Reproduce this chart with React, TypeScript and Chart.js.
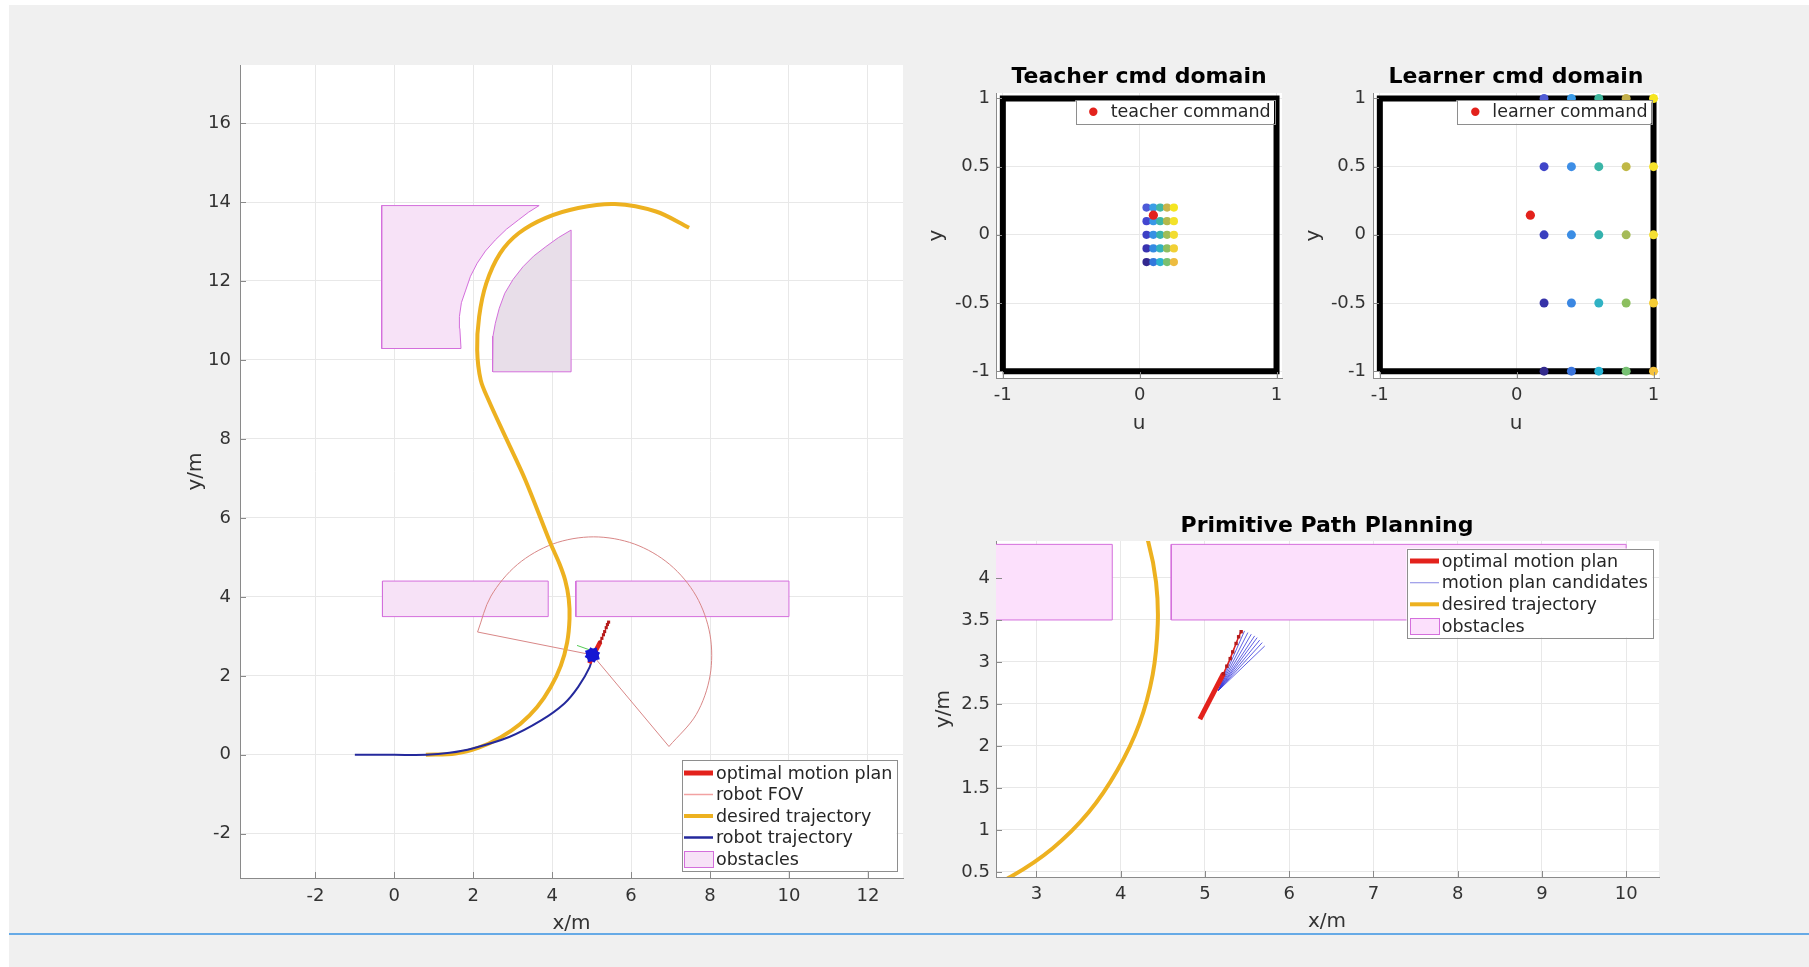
import React, { useEffect, useRef } from 'react';
import { Chart, registerables } from 'chart.js';

Chart.register(...registerables);

const FIG_W = 1809;
const FIG_H = 967;
const FONT = "'DejaVu Sans', 'Liberation Sans', Arial, sans-serif";

// ---------------- tick labels ----------------
const mapXTicks = [-2, 0, 2, 4, 6, 8, 10, 12];
const mapYTicks = [-2, 0, 2, 4, 6, 8, 10, 12, 14, 16];
const cmdXTicks = [-1, 0, 1];
const cmdYTicks = [-1, -0.5, 0, 0.5, 1];
const planXTicks = [3, 4, 5, 6, 7, 8, 9, 10];
const planYTicks = [0.5, 1, 1.5, 2, 2.5, 3, 3.5, 4];

// ---------------- map data ----------------
const desiredX = [0.8, 1.55, 2.14, 2.69, 3.19, 3.62, 3.96, 4.22, 4.38, 4.44, 4.42, 4.33, 4.18, 3.96, 3.32, 2.84, 2.39, 2.19, 2.1, 2.15, 2.33, 2.68, 3.15, 3.84, 4.66, 5.59, 6.63, 7.47];
const desiredY = [0.0, 0.03, 0.18, 0.44, 0.78, 1.21, 1.71, 2.26, 2.85, 3.45, 3.95, 4.42, 4.85, 5.35, 6.96, 8.0, 8.98, 9.49, 10.25, 11.1, 11.94, 12.7, 13.21, 13.6, 13.85, 13.95, 13.76, 13.35];

const robotTrajX = [-1.0, 0.0, 0.82, 1.4, 1.98, 2.91, 3.72, 4.31, 4.66, 4.95, 5.02];
const robotTrajY = [0.0, 0.0, 0.0, 0.05, 0.16, 0.45, 0.87, 1.3, 1.72, 2.22, 2.5];

const robotPosX = [5.02];
const robotPosY = [2.53];
const headingX = [4.63, 4.97];
const headingY = [2.77, 2.65];

const planSolidX = [4.94, 5.22];
const planSolidY = [2.32, 2.86];
const planDotX = [5.22, 5.26, 5.3, 5.33, 5.37, 5.4, 5.43];
const planDotY = [2.86, 2.95, 3.04, 3.12, 3.22, 3.3, 3.36];

const candStartX = [5.16];
const candStartY = [2.66];
const candEndX = [5.43, 5.47, 5.51, 5.55, 5.59, 5.62, 5.65, 5.68, 5.71];
const candEndY = [3.38, 3.37, 3.35, 3.33, 3.31, 3.29, 3.26, 3.23, 3.19];

const fovArcX = [2.11, 2.45, 3.12, 4.02, 5.05, 6.08, 6.98, 7.65, 8.0, 8.0, 7.65, 6.96];
const fovArcY = [3.11, 4.02, 4.82, 5.34, 5.52, 5.34, 4.82, 4.02, 3.04, 2.0, 1.02, 0.21];
const fovEdgeX = [2.11, 5.02, 6.96];
const fovEdgeY = [3.11, 2.53, 0.21];

const obstAX = [-0.32, 1.69, 1.66, 1.65, 1.7, 1.81, 1.93, 2.1, 2.31, 2.56, 2.84, 3.15, 3.4, 3.67, -0.32, -0.32];
const obstAY = [10.29, 10.29, 10.8, 11.1, 11.45, 11.77, 12.12, 12.45, 12.76, 13.04, 13.31, 13.55, 13.74, 13.91, 13.91, 10.29];
const obstBX = [2.5, 4.48, 4.48, 4.16, 3.84, 3.53, 3.26, 3.01, 2.8, 2.66, 2.56, 2.5, 2.48, 2.5];
const obstBY = [9.7, 9.7, 13.29, 13.1, 12.87, 12.63, 12.36, 12.04, 11.69, 11.31, 10.93, 10.6, 10.25, 9.7];
const rect1X = [-0.3, 3.9, 3.9, -0.3, -0.3];
const rect1Y = [3.5, 3.5, 4.4, 4.4, 3.5];
const rect2X = [4.6, 10.0, 10.0, 4.6, 4.6];
const rect2Y = [3.5, 3.5, 4.4, 4.4, 3.5];

// ---------------- command domain data ----------------
const domainX = [-1, 1, 1, -1, -1];
const domainY = [-1, -1, 1, 1, -1];
const teacherU = [0.05, 0.1, 0.15, 0.2, 0.25];
const teacherV = [0.2, 0.1, 0, -0.1, -0.2];
const learnerU = [0.2, 0.4, 0.6, 0.8, 1.0];
const learnerV = [1, 0.5, 0, -0.5, -1];
const teacherCmdU = [0.1];
const teacherCmdV = [0.144];
const learnerCmdU = [0.1];
const learnerCmdV = [0.144];

// ---------------- styles ----------------
const AXIS_COLOR = '#8a8a8a';
const GRID_COLOR = '#e8e8e8';
const TEXT_COLOR = '#333333';
const RED = '#e3221c';
const DARK_RED = '#b51a1a';
const YELLOW = '#edb120';
const BLUE = '#24299c';
const ROBOT = '#1616d2';
const FOV = '#d98787';
const FOV_LEGEND = '#f2a2a2';
const CAND = 'rgba(55,55,220,0.8)';
const CAND_LEGEND = '#9a9ae8';
const OBST_EDGE = '#d46fdc';
const OBST_FILL = '#f7e2f7';
const OBST_B_FILL = '#e8dee9';
const OBST_FILL_P4 = '#fce0fc';
const LEGEND_FONT = 17.5;

const teacherColors = [
  ['#4d5ad8', '#3a9ee6', '#43b8a2', '#c8b54a', '#f5e520'],
  ['#4346d0', '#3898e6', '#3db6a6', '#b4b84b', '#f3e22a'],
  ['#3d40c4', '#3691e4', '#38b3ab', '#9fbd57', '#f2dc30'],
  ['#3933b0', '#348be2', '#33b2bd', '#8dbe60', '#f1d035'],
  ['#33298f', '#3278dc', '#2cb3d0', '#79c070', '#edbc40'],
];
const learnerColors = [
  ['#4f5bd5', '#3a9be8', '#41b89e', '#c4b04a', '#f6e51e'],
  ['#3f45c9', '#3e8ee6', '#3ab5a7', '#c0b846', '#f7e32b'],
  ['#3b3fbf', '#3b8de4', '#33b1ad', '#a5bb58', '#f5df33'],
  ['#3632a8', '#3b87e2', '#30b2c4', '#8cbf5f', '#f5cd35'],
  ['#332a8c', '#3a74dc', '#27b2d2', '#77c173', '#f4c23d'],
];

// ---------------- helpers ----------------
const pts = (xs: number[], ys: number[]) => xs.map((x, i) => ({ x, y: ys[i] }));

function lineDs(xs: number[], ys: number[], color: string, width: number, extra: any = {}) {
  return { data: pts(xs, ys), borderColor: color, borderWidth: width, pointRadius: 0, tension: 0, fill: false, ...extra };
}
function shapeDs(xs: number[], ys: number[], fillColor: string, edge: string) {
  return { data: pts(xs, ys), borderColor: edge, borderWidth: 1, backgroundColor: fillColor, fill: 'shape', pointRadius: 0, tension: 0 };
}
function pointDs(xs: number[], ys: number[], colors: any, radius: number, extra: any = {}) {
  return {
    data: pts(xs, ys), showLine: false, pointRadius: radius, pointBackgroundColor: colors,
    pointBorderWidth: 0, pointBorderColor: 'rgba(0,0,0,0)', borderColor: 'rgba(0,0,0,0)', ...extra,
  };
}
function gridDs(us: number[], vs: number[], colors: string[][], radius: number) {
  const xs: number[] = [];
  const ys: number[] = [];
  const cs: string[] = [];
  vs.forEach((v, r) => us.forEach((u, c) => { xs.push(u); ys.push(v); cs.push(colors[r][c]); }));
  return pointDs(xs, ys, cs, radius);
}

type LegendItem = { label: string; kind: 'line' | 'box' | 'dot'; color: string; width?: number; fill?: string };
type Spec = {
  id: string;
  area: { L: number; T: number; R: number; B: number };
  xr: [number, number];
  yr: [number, number];
  xTicks: number[];
  yTicks: number[];
  xPad: number;
  yPad: number;
  title?: { text: string; x: number; y: number };
  xLabel: { text: string; x: number; y: number };
  yLabel: { text: string; x: number; y: number };
  legend?: { box: { x: number; y: number; w: number; h: number }; rows: number[]; sx0: number; sx1: number; tx: number; items: LegendItem[] };
  datasets: any[];
};

function drawLegend(ctx: CanvasRenderingContext2D, lg: NonNullable<Spec['legend']>) {
  const b = lg.box;
  ctx.save();
  ctx.fillStyle = '#ffffff';
  ctx.fillRect(b.x, b.y, b.w, b.h);
  ctx.strokeStyle = '#8e8e8e';
  ctx.lineWidth = 1;
  ctx.strokeRect(Math.round(b.x) + 0.5, Math.round(b.y) + 0.5, Math.round(b.w), Math.round(b.h));
  lg.items.forEach((it, i) => {
    const y = lg.rows[i];
    if (it.kind === 'line') {
      ctx.strokeStyle = it.color;
      ctx.lineWidth = it.width || 1;
      ctx.beginPath();
      ctx.moveTo(lg.sx0, y);
      ctx.lineTo(lg.sx1, y);
      ctx.stroke();
    } else if (it.kind === 'box') {
      ctx.fillStyle = it.fill || '#fff';
      ctx.fillRect(lg.sx0, y - 8, lg.sx1 - lg.sx0, 16);
      ctx.strokeStyle = it.color;
      ctx.lineWidth = 1;
      ctx.strokeRect(lg.sx0 + 0.5, y - 8 + 0.5, lg.sx1 - lg.sx0, 16);
    } else {
      ctx.fillStyle = it.color;
      ctx.beginPath();
      ctx.arc(lg.sx0, y, 4.2, 0, Math.PI * 2);
      ctx.fill();
    }
    ctx.fillStyle = '#262626';
    ctx.font = `${LEGEND_FONT}px ${FONT}`;
    ctx.textAlign = 'left';
    ctx.textBaseline = 'middle';
    ctx.fillText(it.label, lg.tx, y + 1);
  });
  ctx.restore();
}

function makePlugin(spec: Spec) {
  return {
    id: 'figure_' + spec.id,
    beforeDraw(chart: any) {
      const { ctx, chartArea: a } = chart;
      ctx.save();
      ctx.fillStyle = '#ffffff';
      ctx.fillRect(a.left, a.top, a.right - a.left, a.bottom - a.top);
      ctx.restore();
    },
    afterDraw(chart: any) {
      const { ctx, chartArea: a } = chart;
      const xs = chart.scales.x;
      const ys = chart.scales.y;
      ctx.save();
      ctx.strokeStyle = AXIS_COLOR;
      ctx.lineWidth = 1;
      ctx.beginPath();
      xs.ticks.forEach((t: any) => {
        const p = Math.round(xs.getPixelForValue(t.value)) + 0.5;
        ctx.moveTo(p, a.bottom);
        ctx.lineTo(p, a.bottom - 6);
      });
      ys.ticks.forEach((t: any) => {
        const p = Math.round(ys.getPixelForValue(t.value)) + 0.5;
        ctx.moveTo(a.left, p);
        ctx.lineTo(a.left + 6, p);
      });
      ctx.stroke();

      if (spec.title) {
        ctx.font = `bold 22px ${FONT}`;
        ctx.fillStyle = '#000000';
        ctx.textAlign = 'center';
        ctx.textBaseline = 'alphabetic';
        ctx.fillText(spec.title.text, spec.title.x, spec.title.y);
      }
      ctx.font = `20px ${FONT}`;
      ctx.fillStyle = TEXT_COLOR;
      ctx.textAlign = 'center';
      ctx.textBaseline = 'alphabetic';
      ctx.fillText(spec.xLabel.text, spec.xLabel.x, spec.xLabel.y);
      ctx.save();
      ctx.translate(spec.yLabel.x, spec.yLabel.y);
      ctx.rotate(-Math.PI / 2);
      ctx.fillText(spec.yLabel.text, 0, 0);
      ctx.restore();

      if (spec.legend) drawLegend(ctx, spec.legend);
      ctx.restore();
    },
  };
}

function scaleCfg(axis: 'x' | 'y', spec: Spec) {
  const isX = axis === 'x';
  const ticks = isX ? spec.xTicks : spec.yTicks;
  const r = isX ? spec.xr : spec.yr;
  return {
    type: 'linear',
    position: isX ? 'bottom' : 'left',
    min: r[0],
    max: r[1],
    afterBuildTicks: (s: any) => { s.ticks = ticks.map((v) => ({ value: v })); },
    afterFit: (s: any) => {
      if (isX) s.height = FIG_H - spec.area.B;
      else s.width = spec.area.L;
    },
    grid: { color: GRID_COLOR, drawTicks: false, lineWidth: 1 },
    border: { display: true, color: AXIS_COLOR, width: 1 },
    ticks: {
      padding: isX ? spec.xPad : spec.yPad,
      color: TEXT_COLOR,
      font: { size: 18, family: FONT },
      autoSkip: false,
      maxRotation: 0,
      callback: (v: any) => String(v),
    },
  };
}

function buildConfig(spec: Spec): any {
  return {
    type: 'line',
    data: { datasets: spec.datasets },
    options: {
      animation: false,
      responsive: false,
      maintainAspectRatio: false,
      events: [],
      layout: { padding: { left: 0, top: spec.area.T, right: FIG_W - spec.area.R, bottom: 0 } },
      plugins: { legend: { display: false }, tooltip: { enabled: false }, title: { display: false } },
      elements: { line: { capBezierPoints: false }, point: { radius: 0 } },
      scales: { x: scaleCfg('x', spec), y: scaleCfg('y', spec) },
    },
    plugins: [makePlugin(spec)],
  };
}

// ---------------- subplot specs ----------------
const mapSpec: Spec = {
  id: 'map',
  area: { L: 240, T: 65, R: 903, B: 878 },
  xr: [-3.91, 12.89],
  yr: [-3.12, 17.47],
  xTicks: mapXTicks,
  yTicks: mapYTicks,
  xPad: 8,
  yPad: 9,
  xLabel: { text: 'x/m', x: 571.5, y: 929 },
  yLabel: { text: 'y/m', x: 201, y: 471.5 },
  legend: {
    box: { x: 681.5, y: 760, w: 215, h: 110.5 },
    rows: [773, 794.5, 816, 837.5, 859],
    sx0: 684, sx1: 713, tx: 716,
    items: [
      { label: 'optimal motion plan', kind: 'line', color: RED, width: 5 },
      { label: 'robot FOV', kind: 'line', color: FOV_LEGEND, width: 1.5 },
      { label: 'desired trajectory', kind: 'line', color: YELLOW, width: 4 },
      { label: 'robot trajectory', kind: 'line', color: BLUE, width: 2.5 },
      { label: 'obstacles', kind: 'box', color: OBST_EDGE, fill: OBST_FILL },
    ],
  },
  datasets: [
    pointDs(robotPosX, robotPosY, ROBOT, 8, { pointStyle: 'rect', pointRotation: 30 }),
    pointDs(robotPosX, robotPosY, ROBOT, 8.5, { pointStyle: 'rect', pointRotation: 75 }),
    lineDs(headingX, headingY, '#55cc55', 1),
    pointDs(planDotX, planDotY, DARK_RED, 2.2, { pointStyle: 'rect' }),
    lineDs(planDotX, planDotY, RED, 1.2),
    lineDs(planSolidX, planSolidY, RED, 4.5),
    lineDs(robotTrajX, robotTrajY, BLUE, 2, { tension: 0.33 }),
    lineDs(desiredX, desiredY, YELLOW, 4, { tension: 0.33 }),
    lineDs(fovArcX, fovArcY, FOV, 1, { tension: 0.33 }),
    lineDs(fovEdgeX, fovEdgeY, FOV, 1),
    shapeDs(obstBX, obstBY, OBST_B_FILL, OBST_EDGE),
    shapeDs(obstAX, obstAY, OBST_FILL, OBST_EDGE),
    shapeDs(rect2X, rect2Y, OBST_FILL, OBST_EDGE),
    shapeDs(rect1X, rect1Y, OBST_FILL, OBST_EDGE),
  ],
};

const teacherSpec: Spec = {
  id: 'teacher',
  area: { L: 996, T: 93, R: 1282, B: 378 },
  xr: [-1.05, 1.04],
  yr: [-1.05, 1.04],
  xTicks: cmdXTicks,
  yTicks: cmdYTicks,
  xPad: 7,
  yPad: 6,
  title: { text: 'Teacher cmd domain', x: 1139, y: 82.5 },
  xLabel: { text: 'u', x: 1139, y: 429 },
  yLabel: { text: 'y', x: 942, y: 235.5 },
  legend: {
    box: { x: 1075.5, y: 100, w: 198.5, h: 23.5 },
    rows: [111.7],
    sx0: 1093.3, sx1: 1093.3, tx: 1110.7,
    items: [{ label: 'teacher command', kind: 'dot', color: RED }],
  },
  datasets: [
    pointDs(teacherCmdU, teacherCmdV, RED, 4.6),
    gridDs(teacherU, teacherV, teacherColors, 4.1),
    lineDs(domainX, domainY, '#000000', 6, { borderJoinStyle: 'miter' }),
  ],
};

const learnerSpec: Spec = {
  id: 'learner',
  area: { L: 1373, T: 93, R: 1659, B: 378 },
  xr: [-1.05, 1.04],
  yr: [-1.05, 1.04],
  xTicks: cmdXTicks,
  yTicks: cmdYTicks,
  xPad: 7,
  yPad: 7,
  title: { text: 'Learner cmd domain', x: 1516, y: 82.5 },
  xLabel: { text: 'u', x: 1516, y: 429 },
  yLabel: { text: 'y', x: 1319, y: 235.5 },
  legend: {
    box: { x: 1456.5, y: 100, w: 195, h: 23.5 },
    rows: [111.7],
    sx0: 1475.3, sx1: 1475.3, tx: 1492.3,
    items: [{ label: 'learner command', kind: 'dot', color: RED }],
  },
  datasets: [
    pointDs(learnerCmdU, learnerCmdV, RED, 4.6),
    gridDs(learnerU, learnerV, learnerColors, 4.5),
    lineDs(domainX, domainY, '#000000', 6, { borderJoinStyle: 'miter' }),
  ],
};

const planSpec: Spec = {
  id: 'plan',
  area: { L: 996, T: 541, R: 1659, B: 877 },
  xr: [2.52, 10.39],
  yr: [0.44, 4.44],
  xTicks: planXTicks,
  yTicks: planYTicks,
  xPad: 7,
  yPad: 6,
  title: { text: 'Primitive Path Planning', x: 1327, y: 531.5 },
  xLabel: { text: 'x/m', x: 1327, y: 927 },
  yLabel: { text: 'y/m', x: 949, y: 709 },
  legend: {
    box: { x: 1406.5, y: 548.5, w: 246, h: 89 },
    rows: [561, 582.7, 604.3, 626],
    sx0: 1410, sx1: 1439, tx: 1441.7,
    items: [
      { label: 'optimal motion plan', kind: 'line', color: RED, width: 5 },
      { label: 'motion plan candidates', kind: 'line', color: CAND_LEGEND, width: 1.2 },
      { label: 'desired trajectory', kind: 'line', color: YELLOW, width: 4 },
      { label: 'obstacles', kind: 'box', color: OBST_EDGE, fill: OBST_FILL_P4 },
    ],
  },
  datasets: [
    pointDs(planDotX, planDotY, DARK_RED, 2.4, { pointStyle: 'rect', clip: 0 }),
    lineDs(planDotX, planDotY, RED, 1.5, { clip: 0 }),
    lineDs(planSolidX, planSolidY, RED, 5, { clip: 0 }),
    ...candEndX.map((ex, i) => lineDs([candStartX[0], ex], [candStartY[0], candEndY[i]], CAND, 1, { clip: 0 })),
    lineDs(desiredX, desiredY, YELLOW, 4, { tension: 0.33, clip: 0 }),
    { ...shapeDs(rect2X, rect2Y, OBST_FILL_P4, OBST_EDGE), clip: 0 },
    { ...shapeDs(rect1X, rect1Y, OBST_FILL_P4, OBST_EDGE), clip: 0 },
  ],
};

const SPECS = [mapSpec, teacherSpec, learnerSpec, planSpec];

function FigureChart({ spec }: { spec: Spec }) {
  const ref = useRef<HTMLCanvasElement>(null);
  useEffect(() => {
    if (!ref.current) return;
    const chart = new Chart(ref.current, buildConfig(spec));
    return () => chart.destroy();
  }, [spec]);
  return (
    <canvas
      ref={ref}
      width={FIG_W}
      height={FIG_H}
      style={{ position: 'absolute', left: 0, top: 0, width: FIG_W, height: FIG_H }}
    />
  );
}

export default function App() {
  return (
    <div style={{ position: 'fixed', left: 0, top: 0, width: FIG_W, height: FIG_H, background: '#f0f0f0', overflow: 'hidden' }}>
      <div style={{ position: 'absolute', left: 0, top: 0, width: FIG_W, height: 5, background: '#ffffff' }} />
      <div style={{ position: 'absolute', left: 0, top: 0, width: 9, height: FIG_H, background: '#ffffff' }} />
      <div style={{ position: 'absolute', left: 9, top: 933, width: FIG_W - 9, height: 2, background: '#66aae6' }} />
      {SPECS.map((s) => (
        <FigureChart key={s.id} spec={s} />
      ))}
    </div>
  );
}
